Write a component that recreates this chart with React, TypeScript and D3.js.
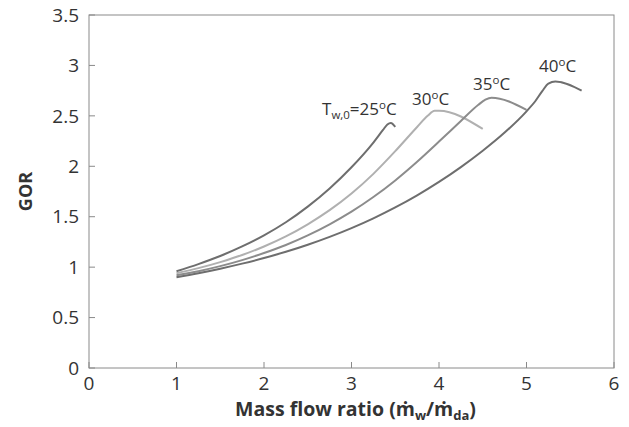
import React from "react";
import * as d3 from "d3";

const xTicks = [0, 1, 2, 3, 4, 5, 6];
const yTicks = [0, 0.5, 1, 1.5, 2, 2.5, 3, 3.5];

const x25 = [1, 1.25, 1.5, 1.75, 2, 2.25, 2.5, 2.75, 3, 3.25, 3.36, 3.41, 3.45, 3.5];
const y25 = [0.96, 1.03, 1.11, 1.205, 1.315, 1.445, 1.6, 1.78, 1.99, 2.235, 2.36, 2.415, 2.43, 2.39];
const x30 = [1, 1.25, 1.5, 1.75, 2, 2.25, 2.5, 2.75, 3, 3.25, 3.5, 3.75, 3.87, 3.95, 4.0, 4.5];
const y30 = [0.94, 0.99, 1.05, 1.12, 1.205, 1.305, 1.425, 1.565, 1.73, 1.925, 2.15, 2.39, 2.5, 2.55, 2.55, 2.37];
const x35 = [1, 1.25, 1.5, 1.75, 2, 2.25, 2.5, 2.75, 3, 3.25, 3.5, 3.75, 4, 4.25, 4.45, 4.53, 4.6, 5.0];
const y35 = [0.92, 0.96, 1.01, 1.07, 1.14, 1.22, 1.315, 1.425, 1.55, 1.695, 1.86, 2.045, 2.245, 2.45, 2.61, 2.66, 2.68, 2.56];
const x40 = [1, 1.25, 1.5, 1.75, 2, 2.25, 2.5, 2.75, 3, 3.25, 3.5, 3.75, 4, 4.25, 4.5, 4.75, 5, 5.1, 5.18, 5.25, 5.33, 5.63];
const y40 = [0.9, 0.94, 0.985, 1.035, 1.09, 1.152, 1.222, 1.3, 1.387, 1.484, 1.592, 1.712, 1.845, 1.992, 2.154, 2.334, 2.545, 2.645, 2.745, 2.82, 2.84, 2.75];

const seriesColors = ["#6e6e6e", "#b0b0b0", "#8c8c8c", "#6e6e6e"];

const W = 629;
const H = 427;
const m = { left: 89, right: 15, top: 15, bottom: 59 };

export default function App() {
  const x = d3.scaleLinear().domain([0, 6]).range([m.left, W - m.right]);
  const y = d3.scaleLinear().domain([0, 3.5]).range([H - m.bottom, m.top]);
  const line = d3
    .line<[number, number]>()
    .x((d) => x(d[0]))
    .y((d) => y(d[1]))
    .curve(d3.curveMonotoneX);
  const series = [
    [x25, y25],
    [x30, y30],
    [x35, y35],
    [x40, y40],
  ];
  const font = "'Open Sans', sans-serif";
  const axisColor = "#8a8a8a";
  const textColor = "#333";
  const x0 = x(0), x1 = x(6), yb = y(0), yt = y(3.5);
  return (
    <svg width={W} height={H} style={{ position: "absolute", left: 0, top: 0 }} fontFamily={font}>
      <rect x={0} y={0} width={W} height={H} fill="#fff" />
      <rect x={x0} y={yt} width={x1 - x0} height={yb - yt} fill="none" stroke={axisColor} strokeWidth={1} />
      {yTicks.map((t) => (
        <g key={"y" + t}>
          <line x1={x0} x2={x0 + 6} y1={y(t)} y2={y(t)} stroke={axisColor} />
          <text x={x0 - 10} y={y(t)} dy="0.35em" textAnchor="end" fontSize={19} fill={textColor}>
            {t}
          </text>
        </g>
      ))}
      {xTicks.map((t) => (
        <g key={"x" + t}>
          <line x1={x(t)} x2={x(t)} y1={yb} y2={yb - 6} stroke={axisColor} />
          <text x={x(t)} y={yb + 22} textAnchor="middle" fontSize={19} fill={textColor}>
            {t}
          </text>
        </g>
      ))}
      {series.map((s, i) => (
        <path
          key={i}
          d={line(s[0].map((v, j) => [v, s[1][j]] as [number, number])) || ""}
          fill="none"
          stroke={seriesColors[i]}
          strokeWidth={2}
        />
      ))}
      <text x={322} y={115} fontSize={17} fill={textColor}>
        <tspan>T</tspan>
        <tspan fontSize={11.5} dy={4}>w,0</tspan>
        <tspan dy={-4}>=25</tspan>
        <tspan fontSize={11.5} dy={-6}>o</tspan>
        <tspan dy={6}>C</tspan>
      </text>
      <text x={412} y={105} fontSize={17} fill={textColor}>
        <tspan>30</tspan>
        <tspan fontSize={11.5} dy={-6}>o</tspan>
        <tspan dy={6}>C</tspan>
      </text>
      <text x={473} y={90} fontSize={17} fill={textColor}>
        <tspan>35</tspan>
        <tspan fontSize={11.5} dy={-6}>o</tspan>
        <tspan dy={6}>C</tspan>
      </text>
      <text x={539} y={72} fontSize={17} fill={textColor}>
        <tspan>40</tspan>
        <tspan fontSize={11.5} dy={-6}>o</tspan>
        <tspan dy={6}>C</tspan>
      </text>
      <text
        transform={`translate(32,${(yt + yb) / 2}) rotate(-90)`}
        textAnchor="middle"
        fontSize={18}
        fontWeight="bold"
        fill={textColor}
      >
        GOR
      </text>
      <text x={(x0 + x1) / 2 + 4} y={416} textAnchor="middle" fontSize={19.5} fontWeight="bold" fill={textColor}>
        <tspan>{"Mass flow ratio (m\u0307"}</tspan>
        <tspan fontSize={13} dy={4}>w</tspan>
        <tspan dy={-4}>{"/m\u0307"}</tspan>
        <tspan fontSize={13} dy={4}>da</tspan>
        <tspan dy={-4}>)</tspan>
      </text>
    </svg>
  );
}
